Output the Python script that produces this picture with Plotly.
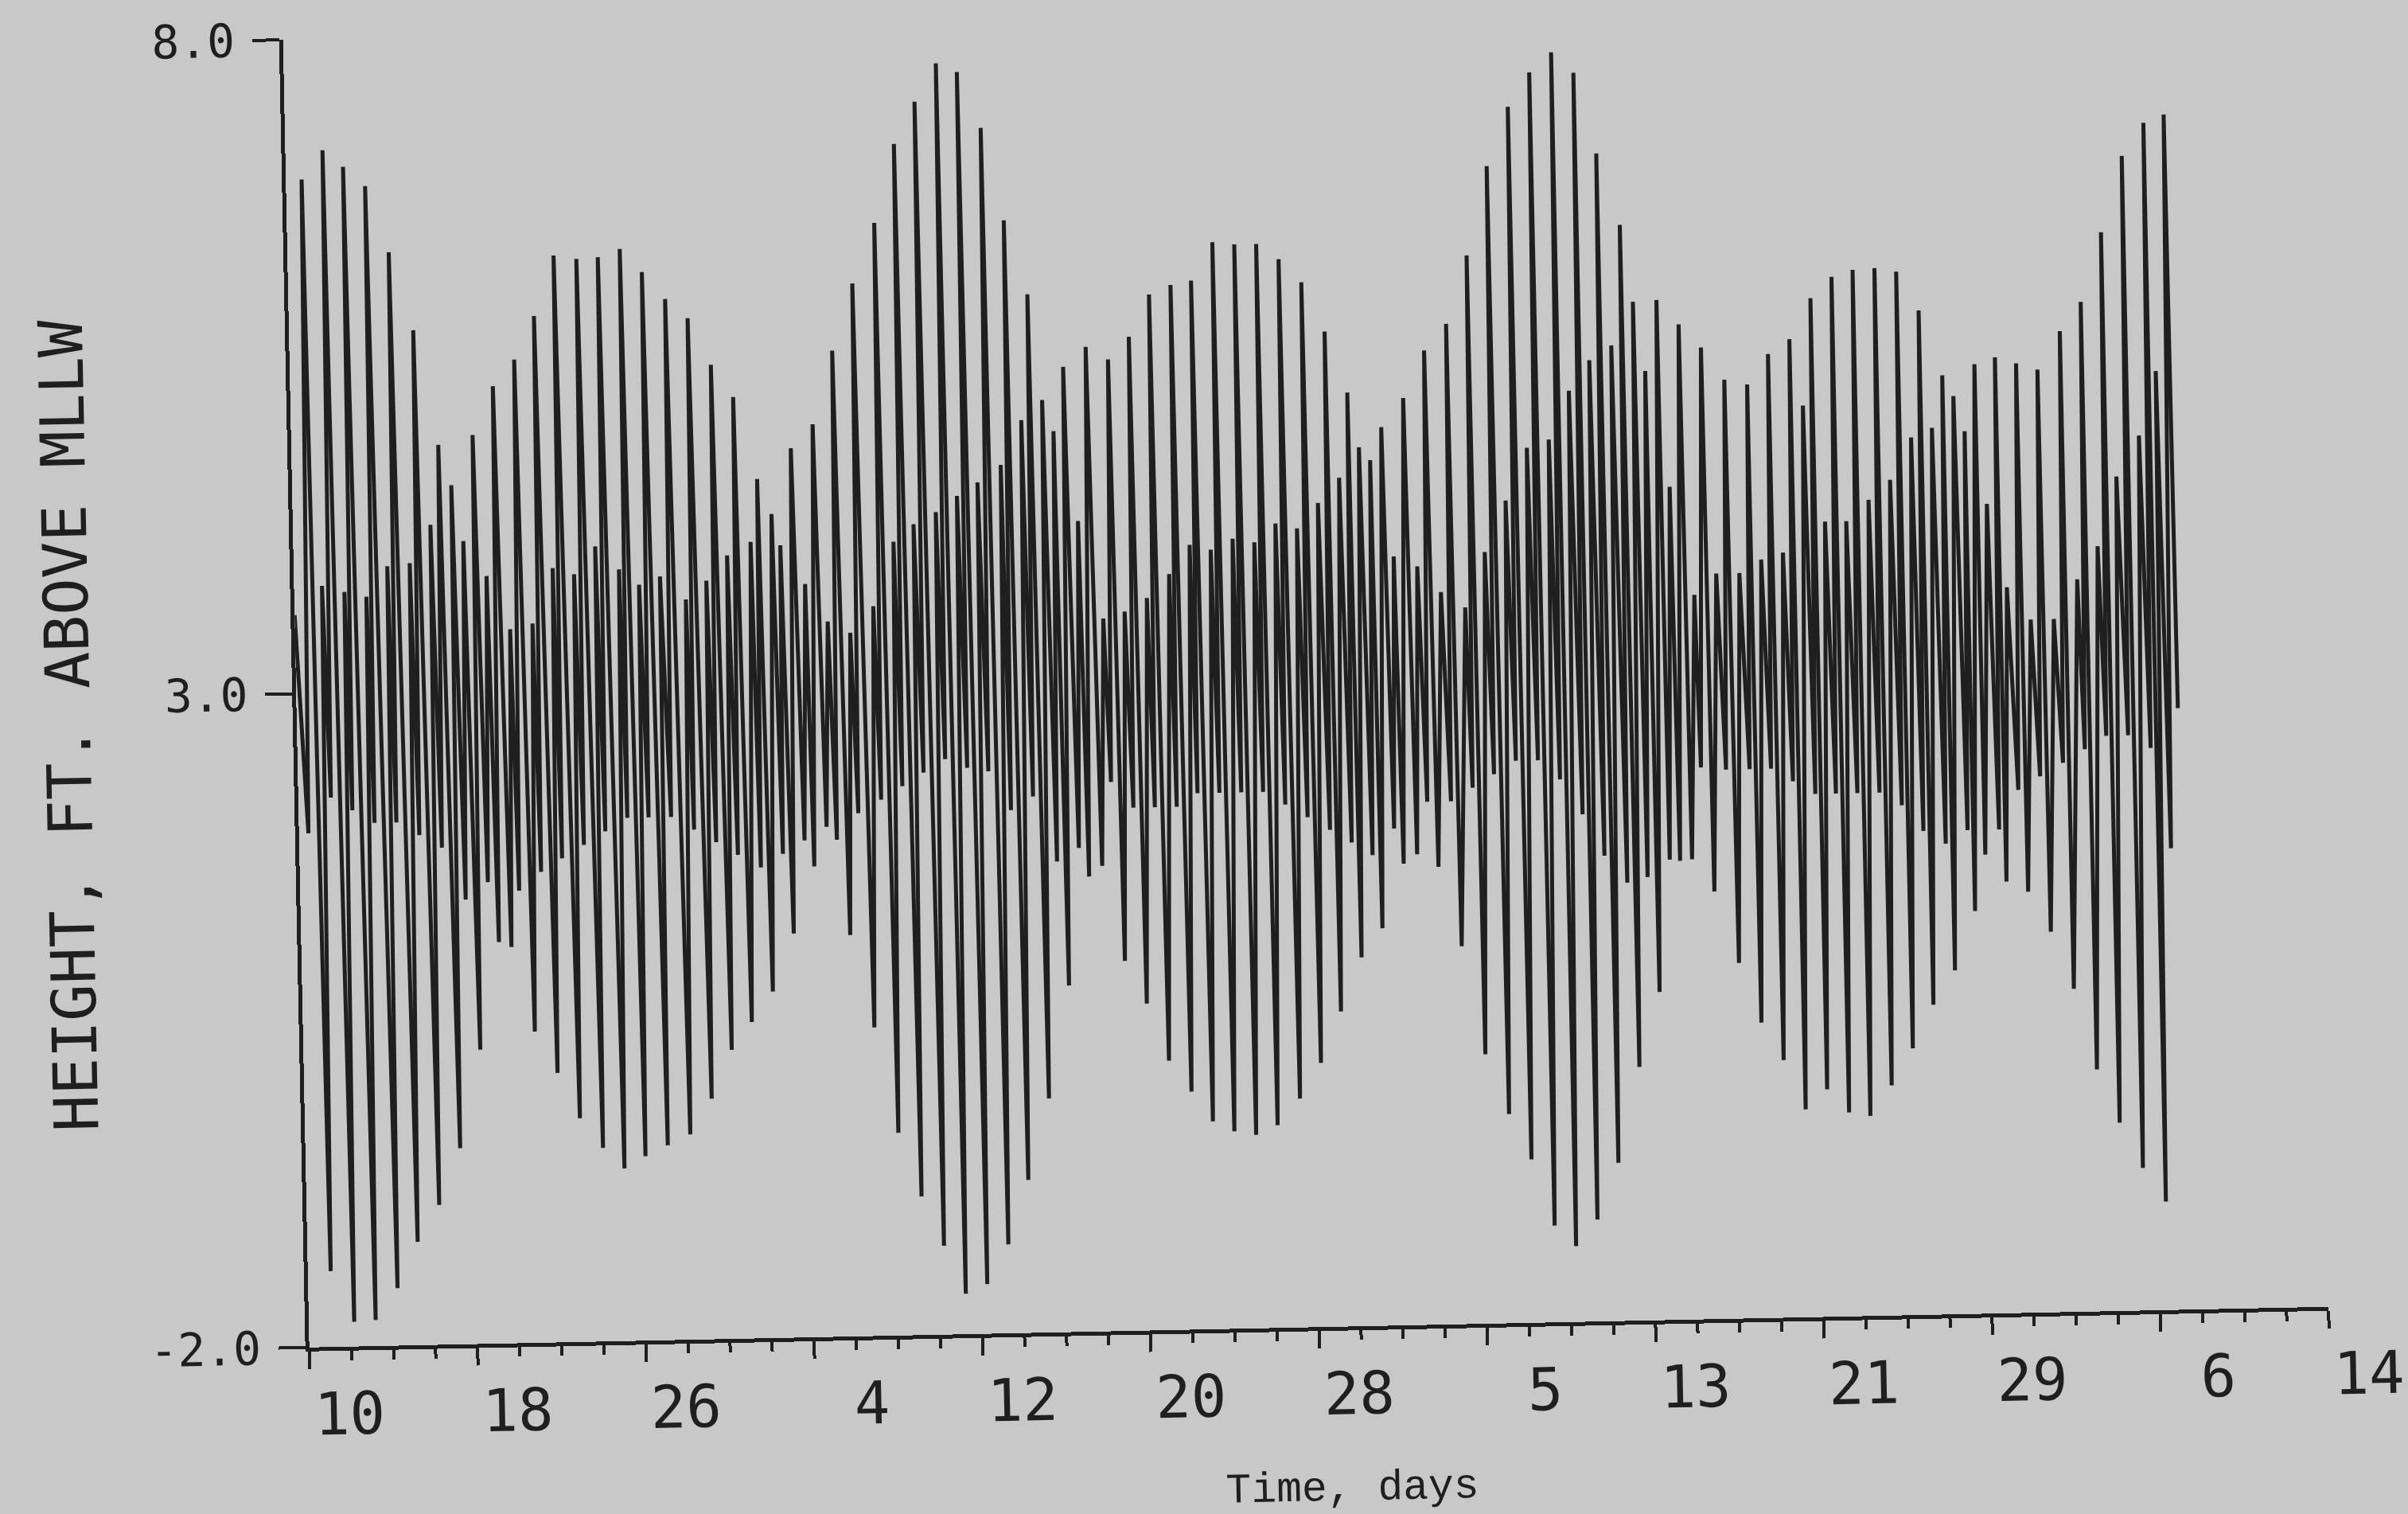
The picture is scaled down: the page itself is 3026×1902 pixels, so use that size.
import plotly.graph_objects as go

# Successive tidal extremes (high, low, high, low, ...), time in days from the 10th
tide_day = [
    0.00, 0.45, 0.75, 1.09, 1.33, 1.55, 1.77, 2.16, 2.39, 2.56,
    2.73, 3.18, 3.43, 3.60, 3.76, 4.25, 4.45, 4.64, 4.82, 5.25,
    5.52, 5.72, 5.91, 6.31, 6.54, 6.78, 6.99, 7.36, 7.57, 7.86,
    8.09, 8.41, 8.63, 8.93, 9.16, 9.40, 9.64, 9.99, 10.23, 10.41,
    10.68, 11.02, 11.30, 11.47, 11.66, 12.06, 12.31, 12.48, 12.65, 13.08,
    13.32, 13.53, 13.73, 14.15, 14.35, 14.56, 14.75, 15.15, 15.46, 15.62,
    15.80, 16.16, 16.40, 16.63, 16.83, 17.23, 17.40, 17.70, 17.91, 18.31,
    18.61, 18.78, 18.96, 19.36, 19.60, 19.82, 20.02, 20.36, 20.61, 20.84,
    21.05, 21.34, 21.74, 21.92, 22.11, 22.37, 22.76, 22.98, 23.15, 23.42,
    23.74, 24.02, 24.29, 24.46, 24.80, 25.08, 25.33, 25.56, 25.80, 26.10,
    26.39, 26.60, 26.82, 27.16, 27.51, 27.70, 27.92, 28.20, 28.53, 28.72,
    28.93, 29.24, 29.50, 29.74, 29.95, 30.26, 30.57, 30.78, 31.00, 31.25,
    31.59, 31.82, 31.99, 32.28, 32.58, 32.82, 33.07, 33.32, 33.70, 33.86,
    34.08, 34.33, 34.72, 34.92, 35.13, 35.39, 35.73, 36.00, 36.24, 36.45,
    36.76, 37.05, 37.32, 37.51, 37.85, 38.14, 38.43, 38.64, 38.90, 39.13,
    39.45, 39.68, 39.91, 40.13, 40.52, 40.70, 40.91, 41.13, 41.60, 41.74,
    41.94, 42.17, 42.60, 42.74, 42.92, 43.16, 43.60, 43.78, 43.97, 44.17,
    44.65, 44.82, 45.01, 45.20, 45.68, 45.86, 46.05, 46.23, 46.70, 46.90,
    47.10, 47.32, 47.72, 47.95, 48.16, 48.35, 48.74, 49.00, 49.22, 49.35,
    49.77, 50.02, 50.24, 50.38, 50.74, 51.00, 51.26, 51.40, 51.82, 52.05,
    52.29, 52.47, 52.89, 53.12, 53.40, 53.65, 53.93, 54.12, 54.50, 54.78,
    55.00, 55.15, 55.64, 55.82, 56.04, 56.17, 56.62, 56.85, 57.08, 57.24,
    57.66, 57.90, 58.14, 58.26, 58.72, 58.95, 59.19, 59.30, 59.77, 59.98,
    60.25, 60.30, 60.77, 61.02, 61.29, 61.34, 61.77, 62.02, 62.30, 62.39,
    62.83, 63.08, 63.35, 63.48, 63.90, 64.05, 64.42, 64.51, 65.02, 65.12,
    65.47, 65.61, 66.05, 66.18, 66.54, 66.69, 67.09, 67.21, 67.60, 67.88,
    68.17, 68.31, 68.70, 69.00, 69.25, 69.32, 69.75, 70.02, 70.27, 70.34,
    70.79, 71.05, 71.30, 71.34, 71.88, 72.10, 72.34, 72.38, 72.82, 73.08,
    73.36, 73.40, 73.83, 74.10, 74.37, 74.41, 74.91, 75.15, 75.41, 75.45,
    75.95, 76.20, 76.44, 76.49, 76.99, 77.20, 77.47, 77.51, 77.99, 78.25,
    78.53, 78.57, 79.04, 79.30, 79.54, 79.58, 80.07, 80.12, 80.53, 80.80,
    81.05, 81.10, 81.40, 81.75, 82.05, 82.12, 82.50, 82.80, 83.06, 83.16,
    83.60, 83.90, 84.16, 84.20, 84.75, 84.95, 85.18, 85.22, 85.75, 85.98,
    86.21, 86.25, 86.71, 87.02, 87.27, 87.31, 87.82, 88.08, 88.33, 88.37,
    88.68, 88.95, 89.30, 89.41,
]

# Water height at each extreme, feet above MLLW
tide_ft = [
    3.60, 1.93, 6.93, -1.42, 3.82, 2.20, 7.15, -1.81, 3.77, 2.10,
    7.02, -1.80, 3.73, 2.00, 6.87, -1.56, 3.96, 2.00, 6.36, -1.21,
    3.98, 1.90, 5.76, -0.93, 4.27, 1.80, 4.88, -0.50, 4.57, 1.40,
    4.14, 0.25, 4.95, 1.53, 3.87, 1.07, 5.32, 1.03, 3.46, 1.46,
    5.52, 0.38, 3.50, 1.60, 5.85, 0.06, 3.92, 1.70, 6.31, -0.29,
    3.87, 1.80, 6.28, -0.52, 4.08, 1.90, 6.29, -0.68, 3.90, 2.00,
    6.35, -0.59, 3.78, 2.00, 6.17, -0.51, 3.84, 2.00, 5.96, -0.43,
    3.66, 1.90, 5.81, -0.16, 3.80, 1.80, 5.45, 0.21, 3.99, 1.70,
    5.20, 0.42, 4.09, 1.60, 4.57, 0.65, 4.30, 1.70, 4.06, 1.09,
    4.80, 1.80, 3.76, 1.60, 4.98, 1.90, 3.47, 1.80, 5.54, 1.07,
    3.38, 2.00, 6.05, 0.36, 3.58, 2.10, 6.51, -0.45, 4.07, 2.20,
    7.11, -0.94, 4.20, 2.30, 7.43, -1.32, 4.29, 2.40, 7.72, -1.69,
    4.41, 2.33, 7.65, -1.62, 4.51, 2.30, 7.22, -1.32, 4.64, 2.00,
    6.51, -0.83, 4.98, 2.10, 5.94, -0.21, 5.13, 1.60, 4.89, 0.65,
    5.38, 1.70, 4.20, 1.48, 5.53, 1.56, 3.45, 2.20, 5.43, 0.83,
    3.50, 2.00, 5.60, 0.50, 3.60, 2.00, 5.92, 0.06, 3.78, 2.00,
    5.99, -0.18, 4.00, 2.10, 6.02, -0.41, 3.96, 2.10, 6.31, -0.49,
    4.04, 2.10, 6.29, -0.52, 4.01, 2.10, 6.29, -0.45, 4.15, 2.00,
    6.17, -0.25, 4.11, 1.90, 5.99, 0.02, 4.30, 1.80, 5.61, 0.41,
    4.49, 1.70, 5.14, 0.82, 4.72, 1.60, 4.62, 1.04, 4.87, 1.80,
    3.88, 1.53, 5.09, 1.60, 3.80, 2.00, 5.45, 1.50, 3.60, 2.00,
    5.65, 0.89, 3.48, 2.10, 6.17, 0.06, 3.90, 2.20, 6.85, -0.40,
    4.29, 2.30, 7.30, -0.75, 4.69, 2.30, 7.56, -1.26, 4.75, 2.15,
    7.71, -1.42, 5.12, 1.88, 7.55, -1.22, 5.35, 1.56, 6.93, -0.79,
    5.46, 1.35, 6.38, -0.06, 5.79, 1.39, 5.26, 0.51, 5.80, 1.52,
    4.37, 1.51, 5.61, 1.52, 3.54, 2.22, 5.43, 1.27, 3.70, 2.20,
    5.18, 0.72, 3.70, 2.20, 5.14, 0.26, 3.80, 2.20, 5.37, -0.03,
    3.85, 2.10, 5.48, -0.41, 4.97, 2.00, 5.79, -0.26, 4.08, 2.00,
    5.95, -0.44, 4.08, 2.00, 6.00, -0.47, 4.24, 2.00, 6.01, -0.24,
    4.39, 1.90, 5.98, 0.04, 4.71, 1.70, 5.68, 0.37, 4.78, 1.60,
    5.18, 0.63, 5.02, 1.70, 4.75, 1.08, 5.26, 1.51, 4.19, 1.70,
    5.31, 1.30, 3.55, 2.00, 5.26, 1.22, 3.30, 2.10, 5.21, 0.91,
    3.30, 2.20, 5.50, 0.47, 3.60, 2.30, 5.72, -0.15, 3.85, 2.40,
    6.25, -0.56, 4.38, 2.40, 6.83, -0.91, 4.69, 2.30, 7.08, -1.17,
    5.18, 1.53, 7.14, 2.60,
]

# Date ticks every 8 days (June 10 .. September 14), minor ticks every 2 days
date_tick_days = [0, 8, 16, 24, 32, 40, 48, 56, 64, 72, 80, 88, 96]
date_tick_labels = ["10", "18", "26", "4", "12", "20", "28", "5", "13", "21", "29", "6", "14"]
minor_tick_days = [2, 4, 6, 10, 12, 14, 18, 20, 22, 26, 28, 30, 34, 36, 38, 42, 44, 46,
                   50, 52, 54, 58, 60, 62, 66, 68, 70, 74, 76, 78, 82, 84, 86, 90, 92, 94]
height_ticks = [-2.0, 3.0, 8.0]
height_tick_labels = ["-2.0", "3.0", "8.0"]

INK = "#1f1f1f"
PAPER = "rgb(200,200,201)"
PLOTTER_FONT = "DejaVu Sans Mono, Liberation Mono, monospace"

# single-digit day numbers sit right-aligned in a two-character field
x_labels = [lab if len(lab) == 2 else "\u00a0" + lab for lab in date_tick_labels]

fig = go.Figure(
    go.Scatter(
        x=tide_day,
        y=tide_ft,
        mode="lines",
        line=dict(color=INK, width=5),
        hoverinfo="skip",
    )
)

fig.update_layout(
    width=3026,
    height=1902,
    margin=dict(l=374, r=114, t=27, b=232, pad=0, autoexpand=False),
    paper_bgcolor=PAPER,
    plot_bgcolor=PAPER,
    showlegend=False,
    annotations=[
        dict(
            text="HEIGHT, FT. ABOVE MLLW",
            xref="paper", yref="paper",
            x=-0.113, y=0.479,
            xanchor="center", yanchor="middle",
            textangle=-90,
            showarrow=False,
            font=dict(family=PLOTTER_FONT, size=77, color=INK),
        ),
        dict(
            text="Time, days",
            xref="paper", yref="paper",
            x=0.515, y=-0.124,
            xanchor="center", yanchor="middle",
            showarrow=False,
            font=dict(family="Liberation Mono, monospace", size=53, color=INK),
        ),
    ],
)

fig.update_xaxes(
    range=[0, 96],
    automargin=False,
    tickmode="array",
    tickvals=date_tick_days,
    ticktext=x_labels,
    ticks="outside",
    ticklen=22,
    tickwidth=4,
    tickcolor=INK,
    ticklabelposition="outside right",
    ticklabeloverflow="allow",
    ticklabelstandoff=16,
    tickfont=dict(family=PLOTTER_FONT, size=74, color=INK),
    showline=True,
    linewidth=5,
    linecolor=INK,
    showgrid=False,
    zeroline=False,
    minor=dict(
        tickmode="array",
        tickvals=minor_tick_days,
        ticks="outside",
        ticklen=12,
        tickwidth=4,
        tickcolor=INK,
        showgrid=False,
    ),
)

fig.update_yaxes(
    range=[-2, 8],
    automargin=False,
    tickmode="array",
    tickvals=height_ticks,
    ticktext=height_tick_labels,
    ticks="outside",
    ticklen=34,
    tickwidth=4,
    tickcolor=INK,
    tickfont=dict(family=PLOTTER_FONT, size=58, color=INK),
    ticklabelstandoff=10,
    ticklabeloverflow="allow",
    showline=True,
    linewidth=5,
    linecolor=INK,
    showgrid=False,
    zeroline=False,
)

# the sheet was scanned slightly askew: turn the whole drawing by the same angle
post = (
    "var gd=document.getElementById('{plot_id}');"
    "document.documentElement.style.overflow='hidden';"
    "document.body.style.margin='0';"
    "document.body.style.overflow='hidden';"
    "document.body.style.background='" + PAPER + "';"
    "gd.style.transformOrigin='50% 50%';"
    "gd.style.transform='rotate(-1.152deg)';"
)

fig.write_html("out.html", config={"displayModeBar": False}, post_script=post)
